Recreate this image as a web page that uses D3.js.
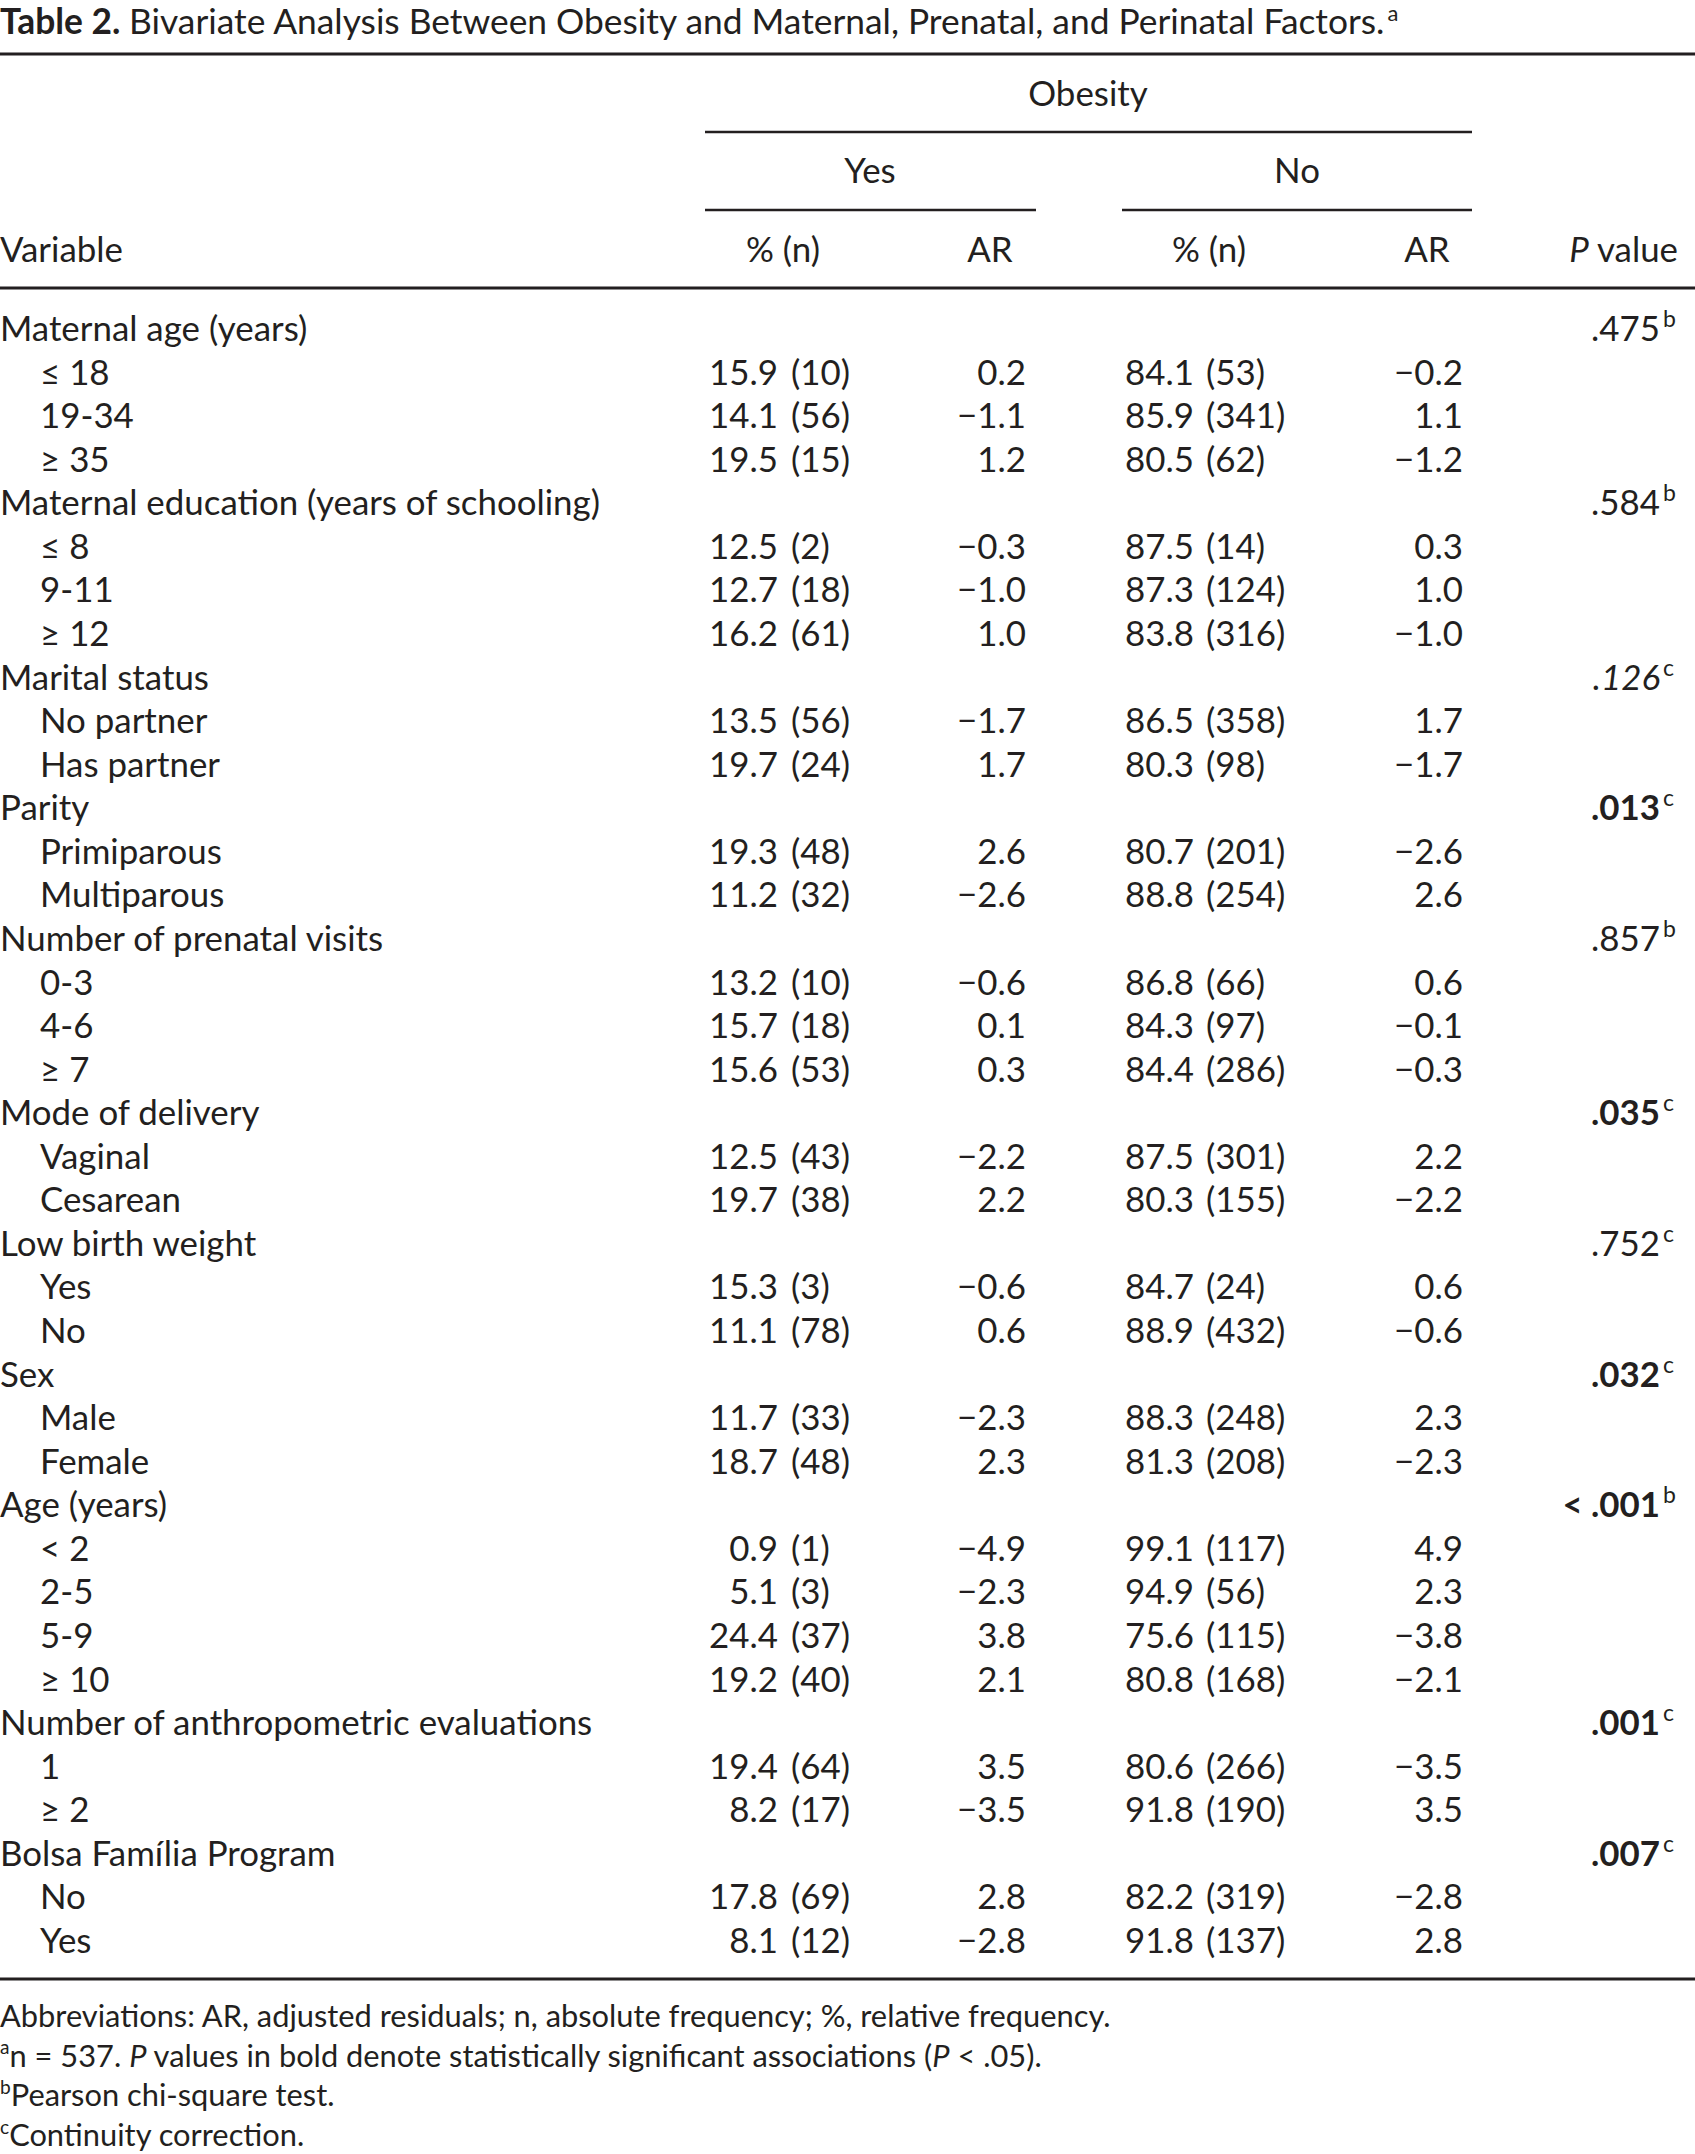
<!DOCTYPE html>
<html>
<head>
<meta charset="utf-8">
<script src="https://cdn.jsdelivr.net/npm/d3@7"></script>
<style>
  html, body { margin: 0; padding: 0; background: #fff; }
  svg text { font-family: Lato, "Open Sans", sans-serif; fill: #231f20; }
</style>
</head>
<body>
<div id="table"></div>
<script>
// ── data ─────────────────────────────────────────────────────────────────────
const groups = [
  'Maternal age (years)', 'Maternal education (years of schooling)', 'Marital status',
  'Parity', 'Number of prenatal visits', 'Mode of delivery', 'Low birth weight', 'Sex',
  'Age (years)', 'Number of anthropometric evaluations', 'Bolsa Família Program'
];
const pValues = ['.475', '.584', '.126', '.013', '.857', '.035', '.752', '.032', '< .001', '.001', '.007'];
const pNotes  = ['b', 'b', 'c', 'c', 'b', 'c', 'c', 'c', 'b', 'c', 'c'];

const levels = [
  ['≤ 18', '19-34', '≥ 35'],
  ['≤ 8', '9-11', '≥ 12'],
  ['No partner', 'Has partner'],
  ['Primiparous', 'Multiparous'],
  ['0-3', '4-6', '≥ 7'],
  ['Vaginal', 'Cesarean'],
  ['Yes', 'No'],
  ['Male', 'Female'],
  ['< 2', '2-5', '5-9', '≥ 10'],
  ['1', '≥ 2'],
  ['No', 'Yes']
];
const yesPct = [[15.9, 14.1, 19.5], [12.5, 12.7, 16.2], [13.5, 19.7], [19.3, 11.2], [13.2, 15.7, 15.6],
                [12.5, 19.7], [15.3, 11.1], [11.7, 18.7], [0.9, 5.1, 24.4, 19.2], [19.4, 8.2], [17.8, 8.1]];
const yesN   = [[10, 56, 15], [2, 18, 61], [56, 24], [48, 32], [10, 18, 53],
                [43, 38], [3, 78], [33, 48], [1, 3, 37, 40], [64, 17], [69, 12]];
const yesAR  = [[0.2, -1.1, 1.2], [-0.3, -1.0, 1.0], [-1.7, 1.7], [2.6, -2.6], [-0.6, 0.1, 0.3],
                [-2.2, 2.2], [-0.6, 0.6], [-2.3, 2.3], [-4.9, -2.3, 3.8, 2.1], [3.5, -3.5], [2.8, -2.8]];
const noPct  = [[84.1, 85.9, 80.5], [87.5, 87.3, 83.8], [86.5, 80.3], [80.7, 88.8], [86.8, 84.3, 84.4],
                [87.5, 80.3], [84.7, 88.9], [88.3, 81.3], [99.1, 94.9, 75.6, 80.8], [80.6, 91.8], [82.2, 91.8]];
const noN    = [[53, 341, 62], [14, 124, 316], [358, 98], [201, 254], [66, 97, 286],
                [301, 155], [24, 432], [248, 208], [117, 56, 115, 168], [266, 190], [319, 137]];
const noAR   = [[-0.2, 1.1, -1.2], [0.3, 1.0, -1.0], [1.7, -1.7], [-2.6, 2.6], [0.6, -0.1, -0.3],
                [2.2, -2.2], [0.6, -0.6], [2.3, -2.3], [4.9, 2.3, -3.8, -2.1], [-3.5, 3.5], [-2.8, 2.8]];

const footnotes = [
  [{ t: 'Abbreviations: AR, adjusted residuals; n, absolute frequency; %, relative frequency.' }],
  [{ t: 'a', sup: true }, { t: 'n = 537. ' }, { t: 'P', it: true },
   { t: ' values in bold denote statistically significant associations (' }, { t: 'P', it: true }, { t: ' < .05).' }],
  [{ t: 'b', sup: true }, { t: 'Pearson chi-square test.' }],
  [{ t: 'c', sup: true }, { t: 'Continuity correction.' }]
];

// ── layout ───────────────────────────────────────────────────────────────────
const W = 1695, H = 2154;
const ink = '#231f20';
const col = { label: 0, indent: 40, yesPct: 778, yesN: 791, yesAR: 1026,
              noPct: 1194, noN: 1206, noAR: 1463, p: 1660 };
const italicP = new Set([2]);   // .126 is set in italic in the original

const fmt1 = d3.format('.1f');
const fmtAR = v => (v < 0 ? '−' : '') + fmt1(Math.abs(v));
const isSig = p => +p.replace('<', '').trim() < 0.05;

// flatten groups + levels into table rows
const rows = [];
groups.forEach((g, i) => {
  rows.push({ kind: 'group', label: g, p: pValues[i], note: pNotes[i], gi: i });
  levels[i].forEach((lv, j) => rows.push({
    kind: 'level', label: lv,
    yesPct: yesPct[i][j], yesN: yesN[i][j], yesAR: yesAR[i][j],
    noPct: noPct[i][j], noN: noN[i][j], noAR: noAR[i][j]
  }));
});

const svg = d3.select('#table')
  .append('svg')
    .attr('width', W)
    .attr('height', H);

// font sizes matched to the widths of reference strings
function fitSize(sel, target) {
  sel.attr('font-size', 100);
  const w = sel.node().getComputedTextLength();
  const s = 100 * target / w;
  sel.attr('font-size', s);
  return s;
}
const probe = svg.append('text').text('Maternal education (years of schooling)');
const bodySize = fitSize(probe, 600);
probe.remove();

// ── title ────────────────────────────────────────────────────────────────────
const title = svg.append('text').attr('x', 0).attr('y', 34);
title.append('tspan').attr('font-weight', 700).text('Table 2. ');
title.append('tspan').text('Bivariate Analysis Between Obesity and Maternal, Prenatal, and Perinatal Factors.');
const titleSize = fitSize(title, 1385);
title.append('tspan').attr('font-size', titleSize * 0.62).attr('dy', -titleSize * 0.38).attr('dx', 3).text('a');

// ── rules ────────────────────────────────────────────────────────────────────
const rules = [
  { x1: 0, x2: W, y: 54, w: 3 },
  { x1: 705, x2: 1472, y: 132, w: 2.6 },
  { x1: 705, x2: 1036, y: 210, w: 2.6 },
  { x1: 1122, x2: 1472, y: 210, w: 2.6 },
  { x1: 0, x2: W, y: 288, w: 3 },
  { x1: 0, x2: W, y: 1979, w: 3 }
];
svg.append('g').selectAll('line')
  .data(rules)
  .enter()
  .append('line')
    .attr('x1', d => d.x1).attr('x2', d => d.x2)
    .attr('y1', d => d.y).attr('y2', d => d.y)
    .attr('stroke', ink)
    .attr('stroke-width', d => d.w);

// ── header ───────────────────────────────────────────────────────────────────
const head = svg.append('g').attr('font-size', bodySize);
head.append('text').attr('x', 1088).attr('y', 106).attr('text-anchor', 'middle').text('Obesity');
head.append('text').attr('x', 870).attr('y', 183).attr('text-anchor', 'middle').text('Yes');
head.append('text').attr('x', 1297).attr('y', 183).attr('text-anchor', 'middle').text('No');
const colHeads = [
  { t: 'Variable', x: 0, a: 'start' },
  { t: '% (n)', x: 783, a: 'middle' },
  { t: 'AR', x: 990, a: 'middle' },
  { t: '% (n)', x: 1209, a: 'middle' },
  { t: 'AR', x: 1427, a: 'middle' }
];
head.selectAll('.colhead')
  .data(colHeads)
  .enter()
  .append('text')
    .attr('class', 'colhead')
    .attr('x', d => d.x)
    .attr('y', 262)
    .attr('text-anchor', d => d.a)
    .text(d => d.t);
const pHead = head.append('text').attr('x', 1678).attr('y', 262).attr('text-anchor', 'end');
pHead.append('tspan').attr('font-style', 'italic').text('P');
pHead.append('tspan').text(' value');

// ── body rows ────────────────────────────────────────────────────────────────
const y = d3.scalePoint()
  .domain(d3.range(rows.length))
  .range([341, 1953]);

const body = svg.append('g').attr('font-size', bodySize);
const row = body.selectAll('.row')
  .data(rows)
  .enter()
  .append('g')
    .attr('class', 'row')
    .attr('transform', (d, i) => `translate(0,${y(i)})`);

row.append('text')
  .attr('x', d => d.kind === 'group' ? col.label : col.indent)
  .text(d => d.label);

const lv = row.filter(d => d.kind === 'level');
const cells = [
  { key: 'yesPct', anchor: 'end',   f: d => fmt1(d.yesPct) },
  { key: 'yesN',   anchor: 'start', f: d => `(${d.yesN})` },
  { key: 'yesAR',  anchor: 'end',   f: d => fmtAR(d.yesAR) },
  { key: 'noPct',  anchor: 'end',   f: d => fmt1(d.noPct) },
  { key: 'noN',    anchor: 'start', f: d => `(${d.noN})` },
  { key: 'noAR',   anchor: 'end',   f: d => fmtAR(d.noAR) }
];
cells.forEach(c => {
  lv.append('text')
    .attr('x', col[c.key])
    .attr('text-anchor', c.anchor)
    .text(c.f);
});

// P value with footnote marker; significant ones in bold
const grp = row.filter(d => d.kind === 'group');
grp.append('text')
  .attr('x', col.p)
  .attr('text-anchor', 'end')
  .attr('font-weight', d => isSig(d.p) ? 700 : 400)
  .attr('font-style', d => italicP.has(d.gi) ? 'italic' : 'normal')
  .text(d => d.p);
grp.append('text')
  .attr('x', col.p + 3)
  .attr('y', -bodySize * 0.4)
  .attr('font-size', bodySize * 0.66)
  .text(d => d.note);

// ── footnotes ────────────────────────────────────────────────────────────────
const fy = d3.scalePoint().domain(d3.range(footnotes.length)).range([2027, 2146]);
const foot = svg.append('g');
const fLines = foot.selectAll('text')
  .data(footnotes)
  .enter()
  .append('text')
    .attr('x', 0)
    .attr('y', (d, i) => fy(i));
fLines.each(function (parts) {
  const t = d3.select(this);
  parts.forEach((p, k) => {
    const ts = t.append('tspan').text(p.t);
    if (p.it) ts.attr('font-style', 'italic');
    if (p.sup) ts.attr('class', 'sup');
    if (k > 0 && parts[k - 1].sup) ts.attr('class', 'after-sup');
  });
});
const footSize = fitSize(fLines.filter((d, i) => i === 0), 1111);
fLines.attr('font-size', footSize);
fLines.selectAll('.sup').attr('font-size', footSize * 0.62).attr('dy', -footSize * 0.4);
fLines.selectAll('.after-sup').attr('dy', footSize * 0.4);
</script>
</body>
</html>
